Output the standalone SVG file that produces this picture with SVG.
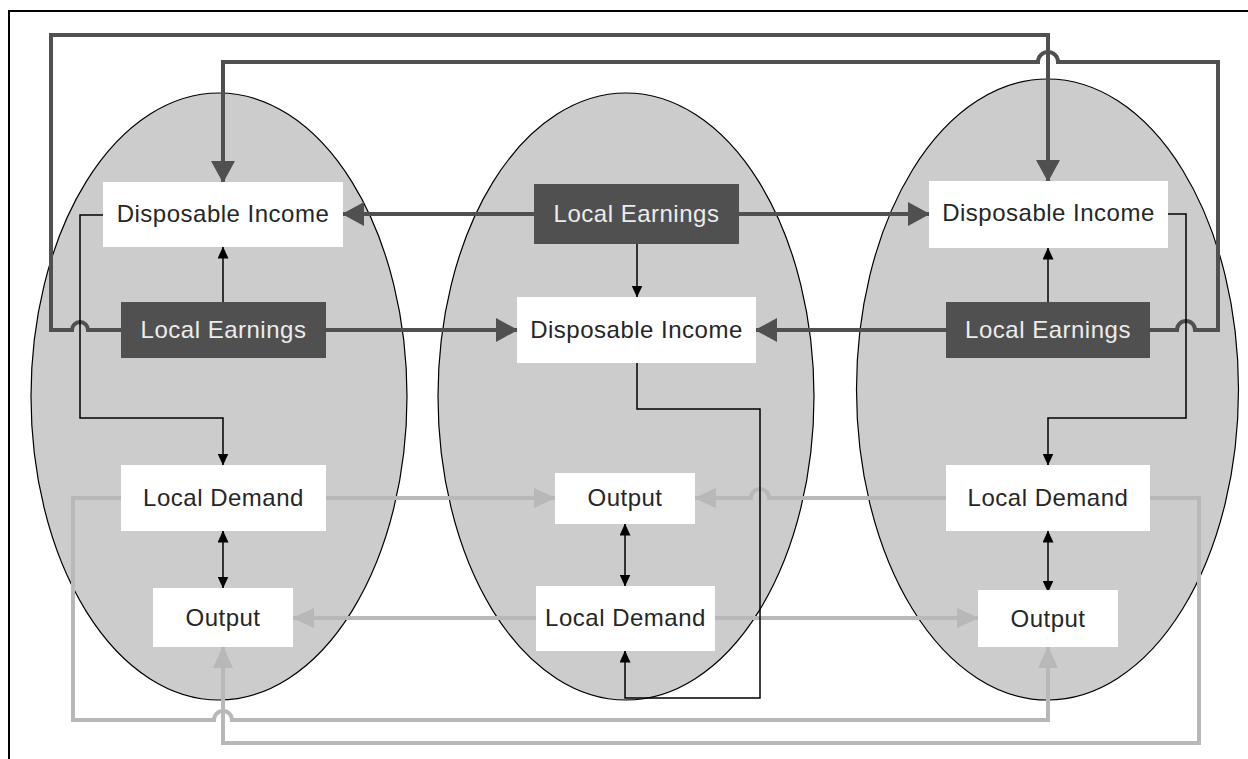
<svg xmlns="http://www.w3.org/2000/svg" width="1248" height="759" viewBox="0 0 1248 759">
<style>
.reg{fill:#cccccc;stroke:#000;stroke-width:1.2}
.wb{fill:#ffffff}
.db{fill:#505050}
.t{font-family:"Liberation Sans",Arial,sans-serif;font-size:24px;letter-spacing:0.5px;text-anchor:middle}
.tw{fill:#262626}
.td{fill:#ececec}
.dk{fill:none;stroke:#505050;stroke-width:4}
.gr{fill:none;stroke:#b8b8b8;stroke-width:4}
.bk{fill:none;stroke:#000;stroke-width:1.5}
</style>
<defs>
<marker id="aD" viewBox="0 0 22 24" markerWidth="22" markerHeight="24" refX="21" refY="12" orient="auto" markerUnits="userSpaceOnUse"><path d="M0,0 L22,12 L0,24 z" fill="#505050"/></marker>
<marker id="aG" viewBox="0 0 22 20" markerWidth="22" markerHeight="20" refX="21" refY="10" orient="auto" markerUnits="userSpaceOnUse"><path d="M0,0 L22,10 L0,20 z" fill="#b8b8b8"/></marker>
<marker id="aB" viewBox="0 0 12 11" markerWidth="12" markerHeight="11" refX="11.5" refY="5.5" orient="auto-start-reverse" markerUnits="userSpaceOnUse"><path d="M0,0 L12,5.5 L0,11 z" fill="#000"/></marker>
</defs>
<rect x="0" y="0" width="1248" height="759" fill="#fff"/>
<rect x="9" y="11" width="1260" height="770" fill="none" stroke="#000" stroke-width="2"/>
<g id="regions">
<ellipse id="region-left" class="reg" cx="219" cy="396.5" rx="188" ry="303.5"/>
<ellipse id="region-middle" class="reg" cx="626" cy="396.5" rx="188" ry="303.5"/>
<ellipse id="region-right" class="reg" cx="1047.5" cy="389.5" rx="191" ry="310.5"/>
</g>
<g id="connectors">
<path class="dk" d="M121,330 H88 A8,8 0 0 0 72,330 H51 V35 H1048 V181" marker-end="url(#aD)"/>
<path class="dk" d="M1150,330 H1177 A9,9 0 0 1 1195,330 H1218 V62 H1058 A10,10 0 0 0 1038,62 H223 V182" marker-end="url(#aD)"/>
<path class="dk" d="M534,214 H343" marker-end="url(#aD)"/>
<path class="dk" d="M739,214 H929" marker-end="url(#aD)"/>
<path class="dk" d="M326,330 H517" marker-end="url(#aD)"/>
<path class="dk" d="M946,330 H756" marker-end="url(#aD)"/>
<path class="gr" d="M326,498 H555" marker-end="url(#aG)"/>
<path class="gr" d="M946,498 H769 A9,9 0 0 0 751,498 H695" marker-end="url(#aG)"/>
<path class="gr" d="M536,618 H293" marker-end="url(#aG)"/>
<path class="gr" d="M715,618 H978" marker-end="url(#aG)"/>
<path class="gr" d="M121,498 H73 V720 H214 A9,9 0 0 1 232,720 H1048 V647" marker-end="url(#aG)"/>
<path class="gr" d="M1150,498 H1199 V743 H223 V647" marker-end="url(#aG)"/>
<path class="bk" d="M223,302 V247" marker-end="url(#aB)"/>
<path class="bk" d="M637,244 V297" marker-end="url(#aB)"/>
<path class="bk" d="M1048,302 V248" marker-end="url(#aB)"/>
<path class="bk" d="M103,215 H80 V418 H223 V465" marker-end="url(#aB)"/>
<path class="bk" d="M1168,214 H1186 V418 H1048 V465" marker-end="url(#aB)"/>
<path class="bk" d="M637,363 V409 H760 V698 H625 V651" marker-end="url(#aB)"/>
<path class="bk" d="M223,531 V588" marker-start="url(#aB)" marker-end="url(#aB)"/>
<path class="bk" d="M625,524 V586" marker-start="url(#aB)" marker-end="url(#aB)"/>
<path class="bk" d="M1048,531 V592" marker-start="url(#aB)" marker-end="url(#aB)"/>
</g>
<g id="left-disposable-income"><rect class="wb" x="103" y="182" width="240" height="65"/><text class="t tw" x="223" y="222">Disposable Income</text></g>
<g id="left-local-earnings"><rect class="db" x="121" y="302" width="205" height="56"/><text class="t td" x="223.5" y="338">Local Earnings</text></g>
<g id="left-local-demand"><rect class="wb" x="121" y="465" width="205" height="66"/><text class="t tw" x="223.5" y="506">Local Demand</text></g>
<g id="left-output"><rect class="wb" x="153" y="588" width="140" height="59"/><text class="t tw" x="223" y="626">Output</text></g>
<g id="middle-local-earnings"><rect class="db" x="534" y="184" width="205" height="60"/><text class="t td" x="636.5" y="222">Local Earnings</text></g>
<g id="middle-disposable-income"><rect class="wb" x="517" y="297" width="239" height="66"/><text class="t tw" x="636.5" y="338">Disposable Income</text></g>
<g id="middle-output"><rect class="wb" x="555" y="473" width="140" height="51"/><text class="t tw" x="625" y="506">Output</text></g>
<g id="middle-local-demand"><rect class="wb" x="536" y="586" width="179" height="65"/><text class="t tw" x="625.5" y="626">Local Demand</text></g>
<g id="right-disposable-income"><rect class="wb" x="929" y="181" width="239" height="67"/><text class="t tw" x="1048.5" y="221">Disposable Income</text></g>
<g id="right-local-earnings"><rect class="db" x="946" y="302" width="204" height="56"/><text class="t td" x="1048" y="338">Local Earnings</text></g>
<g id="right-local-demand"><rect class="wb" x="946" y="465" width="204" height="66"/><text class="t tw" x="1048" y="506">Local Demand</text></g>
<g id="right-output"><rect class="wb" x="978" y="590" width="140" height="57"/><text class="t tw" x="1048" y="627">Output</text></g>
</svg>
